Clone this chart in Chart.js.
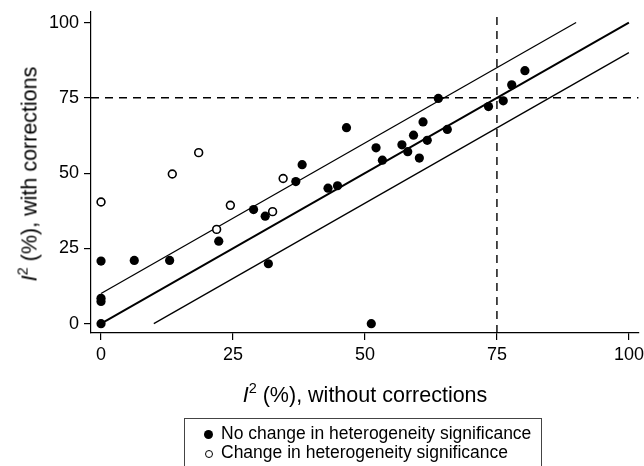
<!DOCTYPE html>
<html>
<head>
  <meta charset="UTF-8">
  <title>I2 with vs without corrections</title>
  <script src="https://cdn.jsdelivr.net/npm/chart.js"></script>
  <style>
    body { margin: 0; background: #fff; font-family: "Liberation Sans", Arial, sans-serif; }
    #wrap { position: relative; width: 644px; height: 466px; overflow: hidden; }
    #plot { position: absolute; left: 0; top: 0; }
    .axTitle { position: absolute; font-size: 21.5px; color: #000; white-space: nowrap; }
    .axTitle sup { font-size: 14.5px; vertical-align: 9px; line-height: 0; }
    #xTitle { left: 365px; top: 395px; transform: translate(-50%, -50%); }
    #yTitle { left: 30px; top: 174px; transform: translate(-50%, -50%) rotate(-90deg); }
    #legend { position: absolute; left: 184px; top: 418px; width: 356px; height: 80px;
              border: 1px solid #444; font-size: 17.5px; color: #000; }
    #legend div { position: absolute; left: 36px; white-space: nowrap; }
    .dot { position: absolute; left: -17px; top: 7px; width: 9px; height: 9px; border-radius: 50%;
           background: #000; box-sizing: border-box; }
    .ring { background: #fff; border: 1.6px solid #000; width: 8px; height: 8px; top: 8px; left: -16px; }
  </style>
</head>
<body>
  <div id="wrap">
    <canvas id="plot" width="644" height="466"></canvas>
    <div id="yTitle" class="axTitle"><i>I</i><sup>2</sup> (%), with corrections</div>
    <div id="xTitle" class="axTitle"><i>I</i><sup>2</sup> (%), without corrections</div>
    <div id="legend">
      <div style="top:4px"><span class="dot"></span>No change in heterogeneity significance</div>
      <div style="top:23px"><span class="dot ring"></span>Change in heterogeneity significance</div>
    </div>
  </div>

  <script>
    // No change in heterogeneity significance (filled)
    const noChangeX = [0, 0, 0, 0, 6.3, 13, 22.3, 28.9, 31.1, 31.7, 36.9, 38.1, 43.0, 44.8, 46.5,
                       51.2, 52.1, 53.3, 57.0, 58.1, 59.2, 60.3, 61.0, 61.8, 63.9, 65.6, 73.4, 76.2, 77.8, 80.3];
    const noChangeY = [0, 7.4, 8.4, 20.8, 21.0, 21.0, 27.4, 37.9, 35.7, 19.9, 47.2, 52.8, 45.0, 45.8, 65.1,
                       0, 58.4, 54.3, 59.4, 57.1, 62.6, 55.0, 67.0, 60.9, 74.8, 64.5, 72.1, 74.0, 79.3, 84.0];

    // Change in heterogeneity significance (hollow)
    const changeX = [0, 13.5, 18.5, 21.9, 24.5, 32.5, 34.5];
    const changeY = [40.4, 49.7, 56.8, 31.3, 39.3, 37.2, 48.2];

    // identity line and +/-10 bands
    const identX = [0, 100], identY = [0, 100];
    const upperX = [0, 90], upperY = [10, 100];
    const lowerX = [10, 100], lowerY = [0, 90];
    const cutoff = 75;

    const xTicks = [0, 25, 50, 75, 100];
    const yTicks = [0, 25, 50, 75, 100];
    const xRange = [-1.9, 101.8];
    const yRange = [-3.1, 103.5];

    const pts = (xs, ys) => xs.map((x, i) => ({ x: x, y: ys[i] }));

    const lineDs = (data, width, dash) => ({
      type: 'line', data: data, borderColor: '#000', borderWidth: width,
      borderDash: dash || [], pointRadius: 0, fill: false, order: 2, clip: false
    });

    const tickFont = { family: '"Liberation Sans", Arial, sans-serif', size: 18 };

    new Chart(document.getElementById('plot').getContext('2d'), {
      type: 'scatter',
      data: {
        datasets: [
          { data: pts(noChangeX, noChangeY), backgroundColor: '#000', borderColor: '#000',
            pointRadius: 4.6, borderWidth: 0, order: 0 },
          { data: pts(changeX, changeY), backgroundColor: '#fff', borderColor: '#000',
            pointRadius: 3.9, borderWidth: 1.6, order: 0 },
          lineDs(pts(identX, identY), 2),
          lineDs(pts(upperX, upperY), 1.3),
          lineDs(pts(lowerX, lowerY), 1.3),
          lineDs(pts([cutoff, cutoff], yRange), 1.4, [8, 6]),
          lineDs(pts(xRange, [cutoff, cutoff]), 1.4, [8, 6])
        ]
      },
      options: {
        responsive: false,
        animation: false,
        devicePixelRatio: 1,
        layout: { padding: { left: 0, top: 12, right: 5, bottom: 0 } },
        plugins: { legend: { display: false }, tooltip: { enabled: false } },
        scales: {
          x: {
            type: 'linear', min: xRange[0], max: xRange[1],
            afterBuildTicks: s => { s.ticks = xTicks.map(v => ({ value: v })); },
            afterFit: s => { s.height = 133; s.paddingLeft = 0; s.paddingRight = 0; },
            ticks: { color: '#000', font: tickFont, padding: 4, maxRotation: 0 },
            grid: { drawOnChartArea: false, drawTicks: true, tickLength: 7, color: '#000', lineWidth: 1.2 },
            border: { display: true, color: '#000', width: 1.2 }
          },
          y: {
            type: 'linear', min: yRange[0], max: yRange[1],
            afterBuildTicks: s => { s.ticks = yTicks.map(v => ({ value: v })); },
            afterFit: s => { s.width = 91; s.paddingTop = 0; s.paddingBottom = 0; },
            ticks: { color: '#000', font: tickFont, padding: 5 },
            grid: { drawOnChartArea: false, drawTicks: true, tickLength: 7, color: '#000', lineWidth: 1.2 },
            border: { display: true, color: '#000', width: 1.2 }
          }
        }
      }
    });
  </script>
</body>
</html>
